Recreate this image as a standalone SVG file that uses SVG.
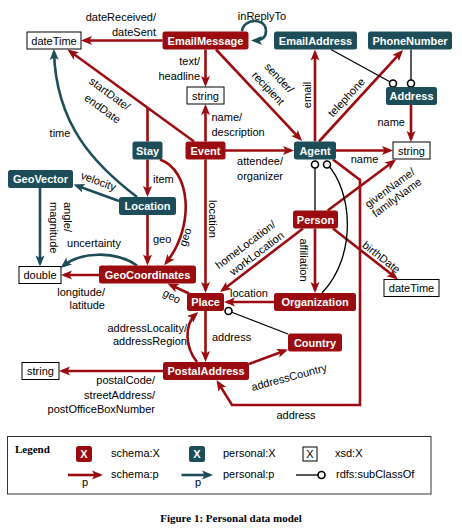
<svg xmlns="http://www.w3.org/2000/svg" width="462" height="532" viewBox="0 0 462 532">
<style>
.r{stroke:#9b0c10;stroke-width:2.6;fill:none;marker-end:url(#ar)}
.rn{stroke:#9b0c10;stroke-width:2.6;fill:none}
.t{stroke:#1c4d59;stroke-width:2.6;fill:none;marker-end:url(#at)}
.s{stroke:#000;stroke-width:1.3;fill:none}
.c{fill:#fff;stroke:#000;stroke-width:1.6}
text{font-family:"Liberation Sans",Arial,sans-serif;font-size:11px;fill:#000}
.nr rect{fill:#9b0c10}
.nt rect{fill:#1c4d59}
.nw rect{fill:#fff;stroke:#000;stroke-width:1}
.nr text,.nt text{fill:#fff;font-weight:bold;text-anchor:middle}
.nw text{text-anchor:middle}
.m{text-anchor:middle}
.e{text-anchor:end}
.serif{font-family:"Liberation Serif","Times New Roman",serif;font-weight:bold}
</style>
<defs>
<marker id="ar" markerUnits="userSpaceOnUse" markerWidth="12" markerHeight="10" refX="8" refY="4.5" orient="auto" overflow="visible"><path d="M0,0 L11,4.5 L0,9 L2.5,4.5 z" fill="#9b0c10"/></marker>
<marker id="at" markerUnits="userSpaceOnUse" markerWidth="12" markerHeight="10" refX="8" refY="4.5" orient="auto" overflow="visible"><path d="M0,0 L11,4.5 L0,9 L2.5,4.5 z" fill="#1c4d59"/></marker>
</defs>
<rect width="462" height="532" fill="#fff"/>

<g id="connectors">
<path class="r" d="M162.5,40.5 H84"/>
<path class="t" d="M242,31.5 C243,18 266,17 266,31 C266,38.5 260,40.5 254,40.5"/>
<path class="r" d="M205.5,49.5 V84"/>
<path class="r" d="M216,49.5 L300,138.8"/>
<path class="r" d="M315,141.5 V52.5"/>
<path class="r" d="M319,141.5 L401,52.2"/>
<path class="s" d="M331,49.5 L393,83.5"/>
<path class="s" d="M411,49.5 V83.5"/>
<path class="r" d="M411,105 V139"/>
<path class="r" d="M336,150.5 H390"/>
<path class="r" d="M225,150.5 H291"/>
<path class="r" d="M205.5,141.5 V107"/>
<path class="r" d="M194,141.5 L69.9,51.3"/>
<path class="rn" d="M147.5,141.5 V107.7"/>
<path class="r" d="M147.5,159.5 V194"/>
<path class="r" d="M160,159.5 C190,170 196,225 166,263"/>
<path class="r" d="M147.5,215 V262.5"/>
<path class="t" d="M119,201 L76.3,185.5"/>
<path class="t" d="M137,197 C95,165 56,125 54,52"/>
<path class="t" d="M40,188 V263.5"/>
<path class="t" d="M137,265.5 C115,250 80,252 63,266"/>
<path class="r" d="M99,275 H64"/>
<path class="r" d="M205.5,159.5 V290"/>
<path class="r" d="M189,293.5 L170.2,284.8"/>
<path class="r" d="M303,228.5 L222.4,290.2"/>
<path class="r" d="M315,228.5 V290"/>
<path class="r" d="M333,159.5 L360,180 V405 H232 L218.1,382.6"/>
<path class="r" d="M327.7,210.5 L393.6,161.3"/>
<path class="r" d="M333,228.5 L395.6,277.6"/>
<path class="r" d="M274,302 H227"/>
<path class="r" d="M205.5,311 V359"/>
<path class="r" d="M197,362 C185,347 184,325 196,314"/>
<path class="r" d="M249,364 L285.2,350.5"/>
<path class="s" d="M288,334 L228.5,311"/>
<path class="r" d="M163,371 H62"/>
<path class="s" d="M315,164 V210.5"/>
<path class="s" d="M327,164 C352,190 358,255 322,293"/>
<circle class="c" cx="393" cy="83.5" r="3.5"/>
<circle class="c" cx="411" cy="83.5" r="3.5"/>
<circle class="c" cx="315" cy="164.5" r="3.5"/>
<circle class="c" cx="327" cy="164.5" r="3.5"/>
<circle class="c" cx="228.5" cy="311" r="3.5"/>
</g>

<g id="edge-labels">
<text class="e" x="156" y="21">dateReceived/</text>
<text class="e" x="156" y="36">dateSent</text>
<text class="m" x="262" y="19.5">inReplyTo</text>
<text class="e" x="200" y="65">text/</text>
<text class="e" x="200" y="79.5">headline</text>
<text class="m" transform="translate(216,49.5) rotate(46.6)" x="64" y="-22.6">sender/</text>
<text class="m" transform="translate(216,49.5) rotate(46.6)" x="64" y="-7.5">recipient</text>
<text class="m" transform="translate(311,95) rotate(-90)">email</text>
<text class="m" transform="translate(319,141.5) rotate(-47.3)" x="51" y="-6">telephone</text>
<text class="e" x="405" y="126">name</text>
<text class="m" x="364.5" y="163">name</text>
<text class="m" x="260" y="165">attendee/</text>
<text class="m" x="260" y="179.5">organizer</text>
<text x="211.5" y="121">name/</text>
<text x="211.5" y="135.5">description</text>
<text class="e" transform="translate(67.5,49.5) rotate(36)" x="84" y="14.8">startDate/</text>
<text class="e" transform="translate(67.5,49.5) rotate(36)" x="84" y="31">endDate</text>
<text class="m" x="60" y="136.5">time</text>
<text x="153" y="183">item</text>
<text x="153" y="243">geo</text>
<text class="m" transform="translate(188.8,238.2) rotate(-72)">geo</text>
<text class="m" transform="translate(98.5,181) rotate(20)" y="4">velocity</text>
<text transform="translate(63.5,202) rotate(90)"><tspan x="0" y="0">angle/</tspan><tspan x="0" y="14">magnitude</tspan></text>
<text class="m" x="94" y="246.5">uncertainty</text>
<text class="e" x="105" y="296">longitude/</text>
<text class="e" x="105" y="309">latitude</text>
<text class="m" transform="translate(208.5,219) rotate(90)">location</text>
<text class="m" transform="translate(172,296) rotate(28)" y="4">geo</text>
<text class="e" transform="translate(220,292) rotate(-37.2)" x="85" y="-18.5">homeLocation/</text>
<text class="e" transform="translate(220,292) rotate(-37.2)" x="85" y="-4.8">workLocation</text>
<text class="m" transform="translate(300,260) rotate(90)">affiliation</text>
<text class="m" transform="translate(327.7,210.5) rotate(-36.3)" x="63.5" y="22.3">givenName/</text>
<text class="m" transform="translate(327.7,210.5) rotate(-36.3)" x="63.5" y="34.2">familyName</text>
<text class="m" transform="translate(333,228.5) rotate(38)" x="55.7" y="-3.4">birthDate</text>
<text class="m" x="249" y="296.5">location</text>
<text x="212" y="341">address</text>
<text class="e" x="187" y="331.5">addressLocality/</text>
<text class="e" x="187" y="345">addressRegion</text>
<text class="m" transform="translate(289,377) rotate(-15)" y="4">addressCountry</text>
<text class="m" x="296" y="419">address</text>
<text class="e" x="155" y="384">postalCode/</text>
<text class="e" x="155" y="398.5">streetAddress/</text>
<text class="e" x="155" y="413">postOfficeBoxNumber</text>
</g>

<g id="dateTime1" class="nw"><rect x="27" y="32" width="54" height="17"/><text x="54" y="44.5">dateTime</text></g>
<g id="EmailMessage" class="nr"><rect x="162.5" y="31.5" width="86" height="18" rx="2.5"/><text x="205.5" y="44.5">EmailMessage</text></g>
<g id="EmailAddress" class="nt"><rect x="274" y="31.5" width="83" height="18" rx="2.5"/><text x="315.5" y="44.5">EmailAddress</text></g>
<g id="PhoneNumber" class="nt"><rect x="368" y="31.5" width="84" height="18" rx="2.5"/><text x="410" y="44.5">PhoneNumber</text></g>
<g id="Address" class="nt"><rect x="386" y="87" width="51" height="18" rx="2.5"/><text x="411.5" y="100">Address</text></g>
<g id="string1" class="nw"><rect x="187" y="87" width="37" height="17"/><text x="205.5" y="99.5">string</text></g>
<g id="Stay" class="nt"><rect x="132.5" y="141.5" width="30" height="18" rx="2.5"/><text x="147.5" y="154.5">Stay</text></g>
<g id="Event" class="nr"><rect x="185.5" y="141.5" width="40" height="18" rx="2.5"/><text x="205.5" y="154.5">Event</text></g>
<g id="Agent" class="nt"><rect x="294" y="141.5" width="42" height="18" rx="2.5"/><text x="315" y="154.5">Agent</text></g>
<g id="string2" class="nw"><rect x="393" y="142" width="37" height="17"/><text x="411.5" y="154.5">string</text></g>
<g id="GeoVector" class="nt"><rect x="8" y="170" width="65" height="18" rx="2.5"/><text x="40.5" y="183">GeoVector</text></g>
<g id="Location" class="nt"><rect x="119" y="197" width="57" height="18" rx="2.5"/><text x="147.5" y="210">Location</text></g>
<g id="Person" class="nr"><rect x="293" y="210.5" width="45" height="18" rx="2.5"/><text x="315.5" y="223.5">Person</text></g>
<g id="GeoCoordinates" class="nr"><rect x="99" y="265.5" width="97" height="18" rx="2.5"/><text x="147.5" y="278.5">GeoCoordinates</text></g>
<g id="double" class="nw"><rect x="19" y="266.5" width="42" height="17"/><text x="40" y="279">double</text></g>
<g id="dateTime2" class="nw"><rect x="384" y="279.5" width="55" height="17"/><text x="411.5" y="292">dateTime</text></g>
<g id="Place" class="nr"><rect x="187" y="293" width="37" height="18" rx="2.5"/><text x="205.5" y="306">Place</text></g>
<g id="Organization" class="nr"><rect x="274" y="293" width="82" height="18" rx="2.5"/><text x="315" y="306">Organization</text></g>
<g id="Country" class="nr"><rect x="288" y="333.5" width="54" height="18" rx="2.5"/><text x="315" y="346.5">Country</text></g>
<g id="PostalAddress" class="nr"><rect x="163" y="362" width="86" height="18" rx="2.5"/><text x="206" y="375">PostalAddress</text></g>
<g id="string3" class="nw"><rect x="22" y="362.5" width="37" height="17"/><text x="40.5" y="375">string</text></g>

<g id="legend">
<rect x="7.5" y="436.5" width="423.5" height="57.5" fill="none" stroke="#333" stroke-width="1"/>
<text class="serif" x="15" y="453" font-size="12">Legend</text>
<g class="nr"><rect x="76" y="446" width="16" height="16" rx="2.5"/><text x="84" y="458">X</text></g>
<text x="111" y="457">schema:X</text>
<g class="nt"><rect x="189" y="446" width="16" height="16" rx="2.5"/><text x="197" y="458">X</text></g>
<text x="223" y="457">personal:X</text>
<g class="nw"><rect x="303" y="447" width="14" height="14"/><text x="310" y="458">X</text></g>
<text x="335" y="457">xsd:X</text>
<path class="r" d="M68,475 H100"/>
<text class="m" x="85" y="486">p</text>
<text x="111" y="478">schema:p</text>
<path class="t" d="M181.5,475 H210"/>
<text class="m" x="198" y="486">p</text>
<text x="223" y="478">personal:p</text>
<path class="s" d="M296,475 H321"/>
<circle class="c" cx="321.5" cy="475" r="3.5"/>
<text x="336" y="478">rdfs:subClassOf</text>
</g>
<text class="serif m" x="231" y="522" font-size="12.4">Figure 1: Personal data model</text>
</svg>
